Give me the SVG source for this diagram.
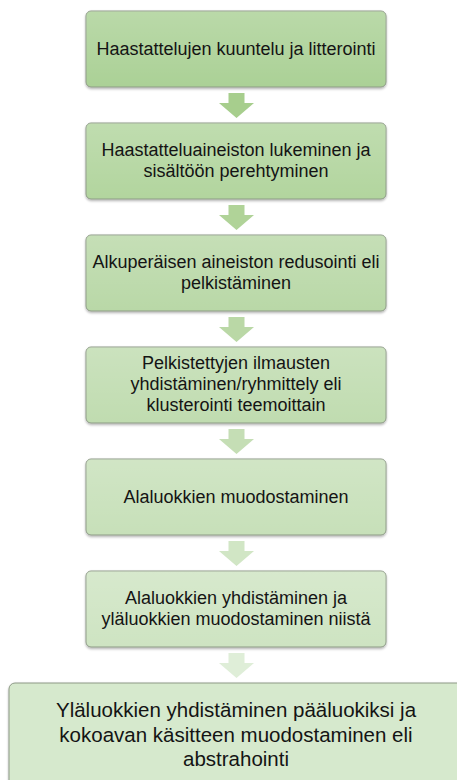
<svg xmlns="http://www.w3.org/2000/svg" width="457" height="780" viewBox="0 0 457 780">
<defs>
<linearGradient id="sheen" x1="0" y1="0" x2="0" y2="1">
<stop offset="0" stop-color="#ffffff" stop-opacity="0.18"/>
<stop offset="1" stop-color="#ffffff" stop-opacity="0"/>
</linearGradient>
<filter id="sh" x="-5%" y="-10%" width="110%" height="130%">
<feDropShadow dx="0" dy="1.5" stdDeviation="1.2" flood-color="#000" flood-opacity="0.3"/>
</filter>
</defs>
<style>
.box{stroke:#8d9a86;stroke-width:1;filter:url(#sh)}
.t{font-family:"Liberation Sans",Arial,sans-serif;font-size:18px;fill:#141414;text-anchor:middle}
.t7{font-family:"Liberation Sans",Arial,sans-serif;font-size:20.5px;fill:#141414;text-anchor:middle}
</style>
<rect width="457" height="780" fill="#ffffff"/>
<g id="connectors">
<polygon points="228.5,93 244.5,93 244.5,103 254,103 236.5,118 219,103 228.5,103" fill="#a7ce8d"/>
<polygon points="228.5,205 244.5,205 244.5,215 254,215 236.5,230 219,215 228.5,215" fill="#b0d398"/>
<polygon points="228.5,317 244.5,317 244.5,327 254,327 236.5,342 219,327 228.5,327" fill="#bad8a6"/>
<polygon points="228.5,429 244.5,429 244.5,439 254,439 236.5,454 219,439 228.5,439" fill="#c5deb5"/>
<polygon points="228.5,541 244.5,541 244.5,551 254,551 236.5,566 219,551 228.5,551" fill="#d1e6c5"/>
<polygon points="228.5,653 244.5,653 244.5,663 254,663 236.5,678 219,663 228.5,663" fill="#dfeed8"/>
</g>
<g id="node1">
<rect class="box" x="86" y="11" width="300" height="76" rx="5" fill="#abd196"/>
<rect x="86" y="11" width="300" height="76" rx="5" fill="url(#sheen)"/>
<text class="t" x="236" y="55">Haastattelujen kuuntelu ja litterointi</text>
</g>
<g id="node2">
<rect class="box" x="86" y="123" width="300" height="76" rx="5" fill="#b2d59e"/>
<rect x="86" y="123" width="300" height="76" rx="5" fill="url(#sheen)"/>
<text class="t" x="236" y="156">Haastatteluaineiston lukeminen ja</text>
<text class="t" x="236" y="177">sisältöön perehtyminen</text>
</g>
<g id="node3">
<rect class="box" x="86" y="235" width="300" height="76" rx="5" fill="#b9d8a7"/>
<rect x="86" y="235" width="300" height="76" rx="5" fill="url(#sheen)"/>
<text class="t" x="236" y="268">Alkuperäisen aineiston redusointi eli</text>
<text class="t" x="236" y="289">pelkistäminen</text>
</g>
<g id="node4">
<rect class="box" x="86" y="347" width="300" height="76" rx="5" fill="#c0dcb0"/>
<rect x="86" y="347" width="300" height="76" rx="5" fill="url(#sheen)"/>
<text class="t" x="236" y="369">Pelkistettyjen ilmausten</text>
<text class="t" x="236" y="390">yhdistäminen/ryhmittely eli</text>
<text class="t" x="236" y="411">klusterointi teemoittain</text>
</g>
<g id="node5">
<rect class="box" x="86" y="459" width="300" height="76" rx="5" fill="#c7e0b9"/>
<rect x="86" y="459" width="300" height="76" rx="5" fill="url(#sheen)"/>
<text class="t" x="236" y="503">Alaluokkien muodostaminen</text>
</g>
<g id="node6">
<rect class="box" x="86" y="571" width="300" height="76" rx="5" fill="#cee4c2"/>
<rect x="86" y="571" width="300" height="76" rx="5" fill="url(#sheen)"/>
<text class="t" x="236" y="604">Alaluokkien yhdistäminen ja</text>
<text class="t" x="236" y="625">yläluokkien muodostaminen niistä</text>
</g>
<g id="node7">
<rect class="box" x="9" y="683" width="454" height="130" rx="6" fill="#d6e9cd" stroke="#a3a9a0" stroke-width="1.5"/>
<text class="t7" x="236" y="717">Yläluokkien yhdistäminen pääluokiksi ja</text>
<text class="t7" x="236" y="742">kokoavan käsitteen muodostaminen eli</text>
<text class="t7" x="236" y="766">abstrahointi</text>
</g>
</svg>
